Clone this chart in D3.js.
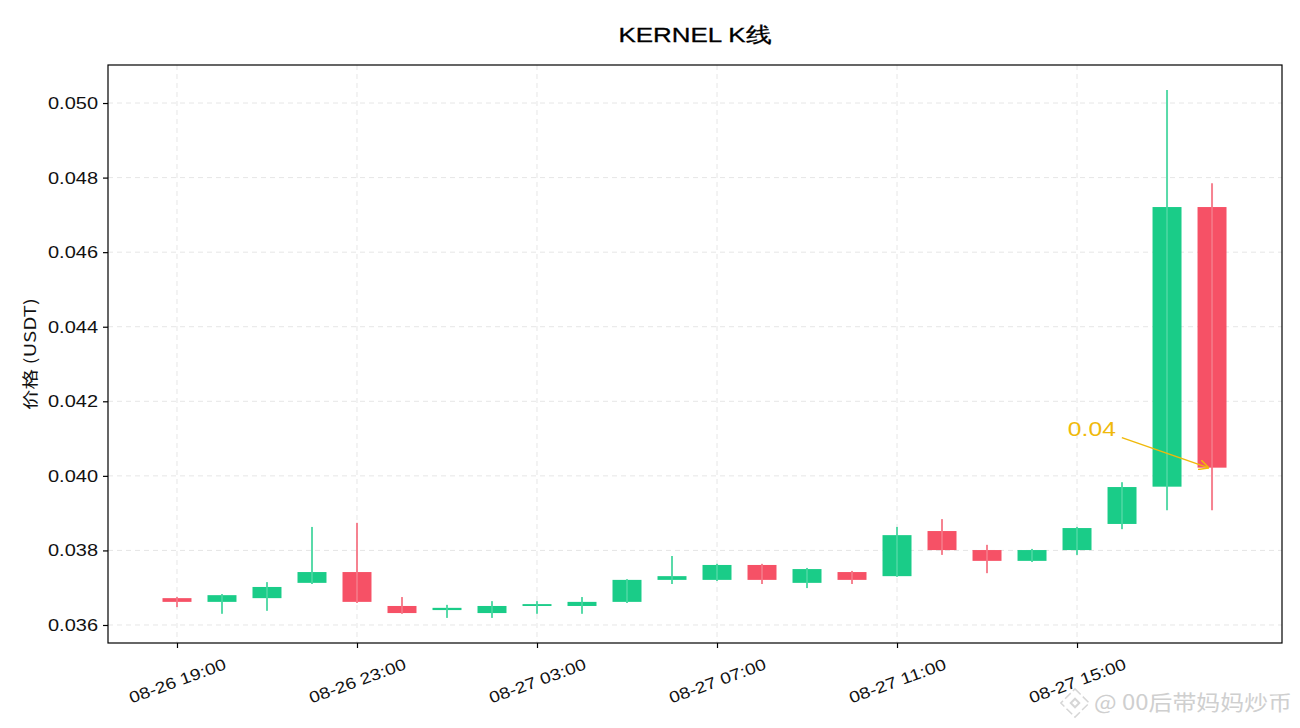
<!DOCTYPE html>
<html>
<head>
<meta charset="utf-8">
<script src="https://cdn.jsdelivr.net/npm/d3@7/dist/d3.min.js"></script>
<style>
  html, body { margin: 0; padding: 0; background: #ffffff; }
  svg { display: block; font-family: "Liberation Sans", Arial, sans-serif; }
</style>
</head>
<body>
<svg id="chart" width="1300" height="728"></svg>
<script>
// ---- data ----
const times = [
  "2025-08-26 19:00","2025-08-26 20:00","2025-08-26 21:00","2025-08-26 22:00",
  "2025-08-26 23:00","2025-08-27 00:00","2025-08-27 01:00","2025-08-27 02:00",
  "2025-08-27 03:00","2025-08-27 04:00","2025-08-27 05:00","2025-08-27 06:00",
  "2025-08-27 07:00","2025-08-27 08:00","2025-08-27 09:00","2025-08-27 10:00",
  "2025-08-27 11:00","2025-08-27 12:00","2025-08-27 13:00","2025-08-27 14:00",
  "2025-08-27 15:00","2025-08-27 16:00","2025-08-27 17:00","2025-08-27 18:00"
];
const opens  = [0.03672,0.03662,0.03672,0.03713,0.03742,0.03651,0.03640,0.03632,0.03651,0.03651,0.03662,0.03721,0.03721,0.03761,0.03713,0.03742,0.03731,0.03852,0.03801,0.03772,0.03801,0.03871,0.03971,0.04721];
const highs  = [0.03675,0.03683,0.03715,0.03863,0.03874,0.03675,0.03654,0.03664,0.03664,0.03675,0.03723,0.03785,0.03764,0.03764,0.03753,0.03745,0.03863,0.03884,0.03815,0.03804,0.03863,0.03983,0.05035,0.04785];
const lows   = [0.03648,0.03630,0.03638,0.03710,0.03659,0.03630,0.03619,0.03619,0.03630,0.03630,0.03659,0.03710,0.03718,0.03710,0.03699,0.03710,0.03729,0.03788,0.03739,0.03769,0.03788,0.03857,0.03908,0.03908];
const closes = [0.03662,0.03680,0.03702,0.03742,0.03662,0.03632,0.03646,0.03651,0.03656,0.03662,0.03721,0.03731,0.03761,0.03721,0.03750,0.03721,0.03841,0.03801,0.03772,0.03801,0.03860,0.03970,0.04721,0.04022];
const yTicks = [0.036,0.038,0.040,0.042,0.044,0.046,0.048,0.050];
const xTickTimes = ["2025-08-26 19:00","2025-08-26 23:00","2025-08-27 03:00","2025-08-27 07:00","2025-08-27 11:00","2025-08-27 15:00"];
const titleText = "KERNEL K线";
const yLabelText = "价格 (USDT)";
const annotationText = "0.04";
const annotationValue = 0.04022;
const watermarkText = "@ 00后带妈妈炒币";

// ---- setup ----
const parse = d3.timeParse("%Y-%m-%d %H:%M");
const H = 3600 * 1000;
const data = times.map((t, i) => ({
  t: parse(t), o: opens[i], h: highs[i], l: lows[i], c: closes[i]
}));

const svg = d3.select("#chart");
const plot = { left: 108, right: 1282, top: 65, bottom: 643 };

const t0 = data[0].t, t1 = data[data.length - 1].t;
const x = d3.scaleTime()
  .domain([new Date(+t0 - 1.533 * H), new Date(+t1 + 1.555 * H)])
  .range([plot.left, plot.right]);
const y = d3.scaleLinear()
  .domain([0.035517, 0.05102])
  .range([plot.bottom, plot.top]);

const up = "#1acc88", down = "#f65166";
const upWick = "#47d6a0", downWick = "#f57585";

// grid
const grid = svg.append("g").attr("class", "grid");
grid.selectAll("line.h").data(yTicks).join("line")
  .attr("x1", plot.left).attr("x2", plot.right)
  .attr("y1", d => y(d)).attr("y2", d => y(d))
  .attr("stroke", "#e6e6e6").attr("stroke-width", 1).attr("stroke-dasharray", "5,4");
grid.selectAll("line.v").data(xTickTimes.map(parse)).join("line")
  .attr("y1", plot.top).attr("y2", plot.bottom)
  .attr("x1", d => x(d)).attr("x2", d => x(d))
  .attr("stroke", "#e6e6e6").attr("stroke-width", 1).attr("stroke-dasharray", "5,4");

// candles
const halfW = 0.322 * H;
const cg = svg.append("g");
cg.selectAll("rect").data(data).join("rect")
  .attr("x", d => x(new Date(+d.t - halfW)))
  .attr("width", d => x(new Date(+d.t + halfW)) - x(new Date(+d.t - halfW)))
  .attr("y", d => y(Math.max(d.o, d.c)))
  .attr("height", d => Math.max(1, y(Math.min(d.o, d.c)) - y(Math.max(d.o, d.c))))
  .attr("fill", d => d.c >= d.o ? up : down);
cg.selectAll("line").data(data).join("line")
  .attr("x1", d => x(d.t)).attr("x2", d => x(d.t))
  .attr("y1", d => y(d.h)).attr("y2", d => y(d.l))
  .attr("stroke", d => d.c >= d.o ? upWick : downWick)
  .attr("stroke-opacity", 0.9)
  .attr("stroke-width", 2);

// frame
svg.append("rect")
  .attr("x", plot.left).attr("y", plot.top)
  .attr("width", plot.right - plot.left).attr("height", plot.bottom - plot.top)
  .attr("fill", "none").attr("stroke", "#000").attr("stroke-width", 1.2);

// y axis
const yAxis = svg.append("g").attr("transform", `translate(${plot.left},0)`)
  .call(d3.axisLeft(y).tickValues(yTicks).tickFormat(d3.format(".3f")).tickSize(5).tickPadding(5));
yAxis.select(".domain").remove();
yAxis.selectAll("line").attr("stroke", "#000").attr("stroke-width", 1.2);
yAxis.selectAll("text")
  .attr("font-size", 17).attr("fill", "#111")
  .attr("font-family", "Liberation Sans, Arial, sans-serif")
  .attr("textLength", 50).attr("lengthAdjust", "spacingAndGlyphs");

// x axis
const xAxis = svg.append("g").attr("transform", `translate(0,${plot.bottom})`)
  .call(d3.axisBottom(x).tickValues(xTickTimes.map(parse)).tickFormat(d3.timeFormat("%m-%d %H:%M")).tickSize(5));
xAxis.select(".domain").remove();
xAxis.selectAll("line").attr("stroke", "#000").attr("stroke-width", 1.2);
xAxis.selectAll("text")
  .attr("font-size", 16).attr("fill", "#111")
  .attr("font-family", "Liberation Sans, Arial, sans-serif")
  .attr("textLength", 102).attr("lengthAdjust", "spacingAndGlyphs")
  .attr("text-anchor", "middle")
  .attr("dy", null)
  .attr("dominant-baseline", "central")
  .attr("y", 38)
  .attr("transform", "rotate(-20, 0, 38)");

// title
svg.append("text")
  .attr("x", (plot.left + plot.right) / 2).attr("y", 42)
  .attr("text-anchor", "middle")
  .attr("font-size", 21).attr("fill", "#000")
  .attr("stroke", "#000").attr("stroke-width", 0.3)
  .attr("textLength", 153).attr("lengthAdjust", "spacingAndGlyphs")
  .text(titleText);

// y label
svg.append("text")
  .attr("transform", "translate(36,354) rotate(-90)")
  .attr("text-anchor", "middle")
  .attr("font-size", 16).attr("fill", "#111")
  .attr("font-family", "Noto Sans CJK SC, Liberation Sans, sans-serif")
  .attr("textLength", 112).attr("lengthAdjust", "spacingAndGlyphs")
  .text(yLabelText);

// annotation
const gold = "#f0b90b";
const last = data[data.length - 1];
const ax = x(last.t) - 4, ay = y(annotationValue);
const tcx = x(new Date(+last.t - 2.67 * H)), tby = y(annotationValue) - 32;
svg.append("defs").append("marker")
  .attr("id", "arrow").attr("viewBox", "0 0 10 10")
  .attr("refX", 9).attr("refY", 5)
  .attr("markerWidth", 10).attr("markerHeight", 10)
  .attr("markerUnits", "userSpaceOnUse")
  .attr("orient", "auto")
  .append("path").attr("d", "M0,0 L10,5 L0,10")
  .attr("fill", "none").attr("stroke", gold).attr("stroke-width", 1.5);
svg.append("line")
  .attr("x1", tcx + 30).attr("y1", tby + 2)
  .attr("x2", ax).attr("y2", ay)
  .attr("stroke", gold).attr("stroke-width", 1.5)
  .attr("marker-end", "url(#arrow)");
svg.append("text")
  .attr("x", tcx).attr("y", tby)
  .attr("text-anchor", "middle")
  .attr("font-size", 20).attr("fill", gold)
  .attr("textLength", 48).attr("lengthAdjust", "spacingAndGlyphs")
  .text(annotationText);

// watermark
const wm = svg.append("g").attr("opacity", 1);
const lx = 1075, ly = 703;
const logo = wm.append("g").attr("transform", `translate(${lx},${ly}) rotate(45)`)
  .attr("fill", "none").attr("stroke", "#d6d6d6").attr("stroke-width", 2);
logo.append("rect").attr("x", -3).attr("y", -3).attr("width", 6).attr("height", 6);
logo.append("rect").attr("x", -10).attr("y", -10).attr("width", 20).attr("height", 20).attr("stroke-width", 1.5).attr("stroke-dasharray", "8,3");
wm.append("text")
  .attr("x", 1094).attr("y", 710)
  .attr("font-size", 21).attr("fill", "#cfcfcf")
  .attr("font-family", "Noto Sans CJK SC, Liberation Sans, sans-serif")
  .attr("textLength", 198).attr("lengthAdjust", "spacingAndGlyphs")
  .text(watermarkText);
</script>
</body>
</html>
